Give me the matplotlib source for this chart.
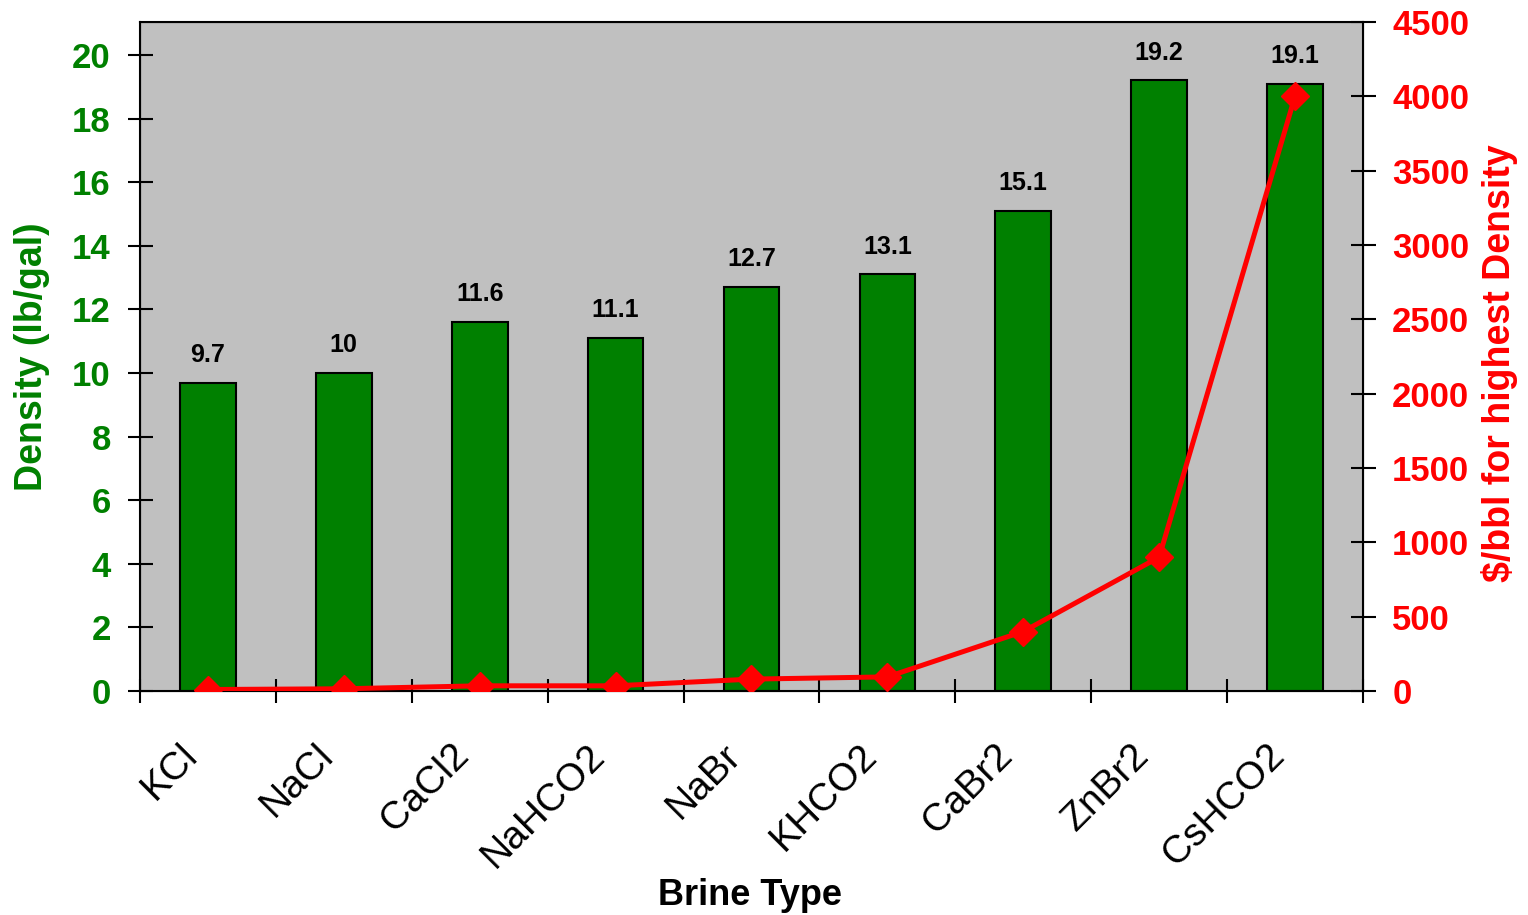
import matplotlib.pyplot as plt
import numpy as np

plt.rcParams['font.family'] = ['Liberation Sans', 'DejaVu Sans']

brines = ["KCl", "NaCl", "CaCl2", "NaHCO2", "NaBr", "KHCO2", "CaBr2", "ZnBr2", "CsHCO2"]
density = [9.7, 10, 11.6, 11.1, 12.7, 13.1, 15.1, 19.2, 19.1]
cost = [10, 15, 35, 35, 80, 95, 400, 900, 4000]

green = "#008000"
red = "#ff0000"

fig = plt.figure(figsize=(15.28, 9.15), dpi=100)
ax = fig.add_axes([0.0916, 0.2448, 0.8004, 0.7312])
ax.set_facecolor("#c0c0c0")

x = np.arange(len(brines))
ax.bar(x, density, width=0.41, color=green, edgecolor="black", linewidth=1.5, zorder=2)
for xi, d in zip(x, density):
    ax.text(xi, d + 0.5, "%g" % d, ha="center", va="bottom", fontsize=18, fontweight="bold")

ax.set_xlim(-0.5, len(brines) - 0.5)
ax.set_ylim(0, 21.04)
ax.set_yticks(range(0, 21, 2))
ax.set_xticks(x)
ax.set_xticklabels([])
# slanted category names, placed a bit left of the bar centre
for xi, name in zip(x, brines):
    ax.annotate(name, xy=(xi, 0), xycoords=ax.get_xaxis_transform(),
                xytext=(-11.5, -42.5), textcoords="offset points",
                rotation=45, ha="right", va="center", rotation_mode="anchor",
                fontsize=28, annotation_clip=False)
ax.set_xticks(np.arange(-0.5, len(brines), 1), minor=True)
ax.tick_params(axis="x", which="major", length=0)
ax.tick_params(axis="x", which="minor", length=17, direction="inout", width=1.5)
ax.tick_params(axis="y", direction="inout", length=18, width=1.5, labelsize=25,
               labelcolor=green, pad=12)
for lab in ax.get_yticklabels():
    lab.set_fontweight("bold")
ax.set_ylabel("Density (lb/gal)", color=green, fontsize=27, fontweight="bold", va="center")
ax.yaxis.set_label_coords(-0.088, 0.5)
ax.set_xlabel("Brine Type", fontsize=26, fontweight="bold", va="center")
ax.xaxis.set_label_coords(0.499, -0.305)
for s in ax.spines.values():
    s.set_linewidth(1.5)

ax2 = ax.twinx()
ax2.plot(x, cost, color=red, linewidth=3.6, marker="D", markersize=14, zorder=5)
ax2.set_ylim(0, 4500)
ax2.set_yticks(range(0, 4501, 500))
ax2.tick_params(axis="y", direction="inout", length=18, width=1.5, labelsize=25,
                labelcolor=red, pad=12)
for lab in ax2.get_yticklabels():
    lab.set_fontweight("bold")
ax2.set_ylabel("$/bbl for highest Density", color=red, fontsize=27, fontweight="bold",
               va="center", rotation=90)
ax2.yaxis.set_label_coords(1.112, 0.49)

fig.savefig("out.png")
